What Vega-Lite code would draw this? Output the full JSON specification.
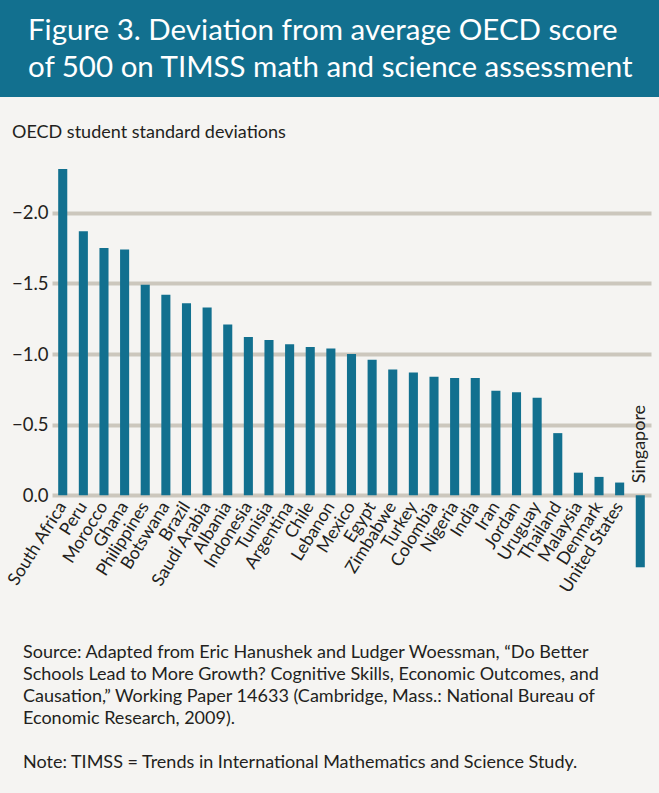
{
  "$schema": "https://vega.github.io/schema/vega-lite/v6.json",
  "background": "#f5f4f2",
  "padding": 0,
  "spacing": 0,
  "columns": 1,
  "align": "none",
  "config": {"font": "Lato", "view": {"stroke": null}, "concat": {"spacing": 0}},
  "concat": [
    {
      "width": 659,
      "height": 97,
      "view": {"fill": "#12708f", "stroke": null},
      "data": {"values": []},
      "mark": "text",
      "title": {
        "text": ["Figure 3. Deviation from average OECD score", "of 500 on TIMSS math and science assessment"],
        "orient": "bottom",
        "anchor": "start",
        "frame": "group",
        "offset": -80,
        "baseline": "top",
        "dx": 28,
        "fontSize": 29.5,
        "fontWeight": "normal",
        "color": "#ffffff",
        "lineHeight": 36.6
      }
    },
    {
      "width": 651,
      "height": 483,
      "data": {"values": [
        {"country": "South Africa", "value": -2.31},
        {"country": "Peru", "value": -1.87},
        {"country": "Morocco", "value": -1.75},
        {"country": "Ghana", "value": -1.74},
        {"country": "Philippines", "value": -1.49},
        {"country": "Botswana", "value": -1.42},
        {"country": "Brazil", "value": -1.36},
        {"country": "Saudi Arabia", "value": -1.33},
        {"country": "Albania", "value": -1.21},
        {"country": "Indonesia", "value": -1.12},
        {"country": "Tunisia", "value": -1.10},
        {"country": "Argentina", "value": -1.07},
        {"country": "Chile", "value": -1.05},
        {"country": "Lebanon", "value": -1.04},
        {"country": "Mexico", "value": -1.00},
        {"country": "Egypt", "value": -0.96},
        {"country": "Zimbabwe", "value": -0.89},
        {"country": "Turkey", "value": -0.87},
        {"country": "Colombia", "value": -0.84},
        {"country": "Nigeria", "value": -0.83},
        {"country": "India", "value": -0.83},
        {"country": "Iran", "value": -0.74},
        {"country": "Jordan", "value": -0.73},
        {"country": "Uruguay", "value": -0.69},
        {"country": "Thailand", "value": -0.44},
        {"country": "Malaysia", "value": -0.16},
        {"country": "Denmark", "value": -0.13},
        {"country": "United States", "value": -0.09},
        {"country": "Singapore", "value": 0.51}
      ]},
      "title": {
        "text": [
          "Source: Adapted from Eric Hanushek and Ludger Woessman, “Do Better",
          "Schools Lead to More Growth? Cognitive Skills, Economic Outcomes, and",
          "Causation,” Working Paper 14633 (Cambridge, Mass.: National Bureau of",
          "Economic Research, 2009)."
        ],
        "subtitle": "Note: TIMSS = Trends in International Mathematics and Science Study.",
        "subtitlePadding": 26,
        "subtitleFontSize": 18,
        "subtitleColor": "#231f20",
        "subtitleFontWeight": "normal",
        "orient": "bottom",
        "anchor": "start",
        "frame": "bounds",
        "offset": 49,
        "dx": 23,
        "baseline": "top",
        "fontSize": 18,
        "lineHeight": 22,
        "fontWeight": "normal",
        "color": "#231f20"
      },
      "layer": [
        {
          "mark": {"type": "bar", "color": "#12708f"},
          "encoding": {
            "x": {
              "field": "country", "type": "nominal", "sort": null,
              "scale": {"range": [52, 651], "paddingInner": 0.56, "paddingOuter": 0.3},
              "axis": {
                "title": null, "labelAngle": -58, "labelFontSize": 17.5, "labelColor": "#231f20",
                "domain": false, "ticks": false, "labelPadding": 8, "offset": -84.7,
                "labelExpr": "datum.value == 'Singapore' ? '' : datum.value",
                "labelOverlap": false, "labelLimit": 0, "grid": false
              }
            },
            "y": {
              "field": "value", "type": "quantitative",
              "title": "OECD student standard deviations",
              "scale": {"domain": [-2.82, 0.6], "reverse": true, "nice": false, "zero": false},
              "axis": {
                "values": [-2, -1.5, -1, -0.5, 0], "format": ".1f",
                "offset": -52, "grid": false, "domain": false,
                "ticks": true, "tickSize": -599, "tickWidth": 4, "tickColor": "#ccc7bd", "tickCap": "butt",
                "labelFontSize": 18.5, "labelColor": "#231f20", "labelPadding": 603,
                "minExtent": 0, "maxExtent": 52,
                "titleAngle": 0, "titleAlign": "left", "titleBaseline": "alphabetic",
                "titleX": -40.5, "titleY": 40.3, "titleFontSize": 18, "titleFontWeight": "normal", "titleColor": "#231f20"
              }
            }
          }
        },
        {
          "transform": [{"filter": "datum.country === 'Singapore'"}],
          "mark": {"type": "text", "angle": 270, "align": "left", "baseline": "middle", "dx": 12, "fontSize": 18, "color": "#231f20"},
          "encoding": {
            "x": {"field": "country", "type": "nominal", "sort": null},
            "y": {"datum": 0, "type": "quantitative", "title": "OECD student standard deviations"},
            "text": {"field": "country"}
          }
        }
      ]
    },
    {
      "width": 659,
      "height": 26,
      "data": {"values": []},
      "mark": "text"
    }
  ]
}
